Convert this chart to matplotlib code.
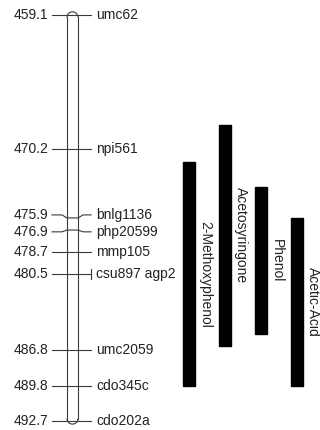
import matplotlib
matplotlib.use("Agg")
import matplotlib.pyplot as plt
from matplotlib.patches import Arc, Rectangle

plt.rcParams['font.family'] = ['Liberation Sans', 'DejaVu Sans']

# genetic map data
positions = [459.1, 470.2, 475.9, 476.9, 478.7, 480.5, 486.8, 489.8, 492.7]
label_pos = [459.1, 470.2, 475.65, 477.05, 478.7, 480.5, 486.8, 489.8, 492.7]
markers = ['umc62', 'npi561', 'bnlg1136', 'php20599', 'mmp105',
           'csu897 agp2', 'umc2059', 'cdo345c', 'cdo202a']

# QTL intervals
traits = ['2-Methoxyphenol', 'Acetosyringone', 'Phenol', 'Acetic-Acid']
qtl_start = [471.3, 468.2, 473.3, 475.9]
qtl_end = [489.8, 486.5, 485.5, 489.8]

px = 12.08  # pixels per map unit
fig = plt.figure(figsize=(3.2, 4.3), dpi=100)
ax = fig.add_axes([0, 0, 1, 1])
ax.set_xlim(0, 320)
ax.set_ylim(459.1 + 415 / px, 459.1 - 15 / px)
ax.axis('off')

# chromosome
cx, r = 72.5, 5.5
top, bot = positions[0] + 2.3 / px, positions[-1] - 2.3 / px
lw = 0.8
col = '#3a3a3a'
ax.plot([cx - r, cx - r], [top, bot], color=col, lw=lw)
ax.plot([cx + r, cx + r], [top, bot], color=col, lw=lw)
ax.add_patch(Arc((cx, top), 2 * r, 2 * r / px, theta1=180, theta2=360,
                 color=col, lw=lw))
ax.add_patch(Arc((cx, bot), 2 * r, 2 * r / px, theta1=0, theta2=180,
                 color=col, lw=lw))

for p, lp, m in zip(positions, label_pos, markers):
    ax.plot([52, 62, cx - r, cx + r, 83, 91], [lp, lp, p, p, lp, lp],
            color=col, lw=lw)
    ax.text(48, lp, '%.1f' % p, ha='right', va='center', fontsize=10,
            color='#222222')
    ax.text(96, lp, m, ha='left', va='center', fontsize=10, color='#222222')
    if m == 'csu897 agp2':
        ax.plot([91, 91], [p - 5 / px, p + 5 / px], color=col, lw=lw)

bar_x = [183, 219, 255, 291]
for x, t, s, e in zip(bar_x, traits, qtl_start, qtl_end):
    ax.add_patch(Rectangle((x, s), 12, e - s, color='black'))
    ax.text(x + 22, (s + e) / 2, t, rotation=-90, ha='center', va='center',
            fontsize=10, color='#222222')

fig.savefig('out.png', dpi=100)
